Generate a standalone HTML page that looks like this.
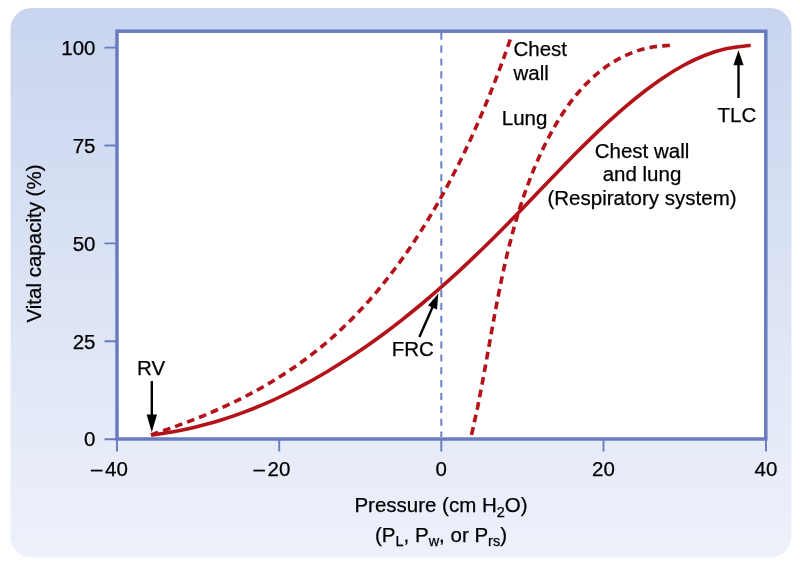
<!DOCTYPE html>
<html lang="en">
<head>
<meta charset="utf-8">
<title>Pressure–volume curves of the lung, chest wall and respiratory system</title>
<style>
html,body{margin:0;padding:0;background:#fff;}
body{width:800px;height:564px;overflow:hidden;}
svg{display:block;}
text{font-family:"Liberation Sans",Arial,Helvetica,sans-serif;font-size:20.5px;fill:#000;stroke:#000;stroke-width:0.25px;}
.sub{font-size:14.5px;}
</style>
</head>
<body>
<svg width="800" height="564" viewBox="0 0 800 564">
<defs>
<linearGradient id="bg" x1="0" y1="0" x2="0" y2="1">
<stop offset="0" stop-color="#c9d5ef"/>
<stop offset="1" stop-color="#edf1fa"/>
</linearGradient>
</defs>
<rect x="0" y="0" width="800" height="564" fill="#ffffff"/>
<rect x="10.5" y="8" width="781" height="549.5" rx="21" ry="21" fill="url(#bg)"/>
<!-- plot area -->
<rect x="117" y="31.2" width="648.8" height="407.8" fill="#ffffff" stroke="#697cc0" stroke-width="3.5"/>
<!-- ticks -->
<g stroke="#697cc0" stroke-width="1.9" fill="none">
<path d="M104.5 47.6H116M104.5 145.5H116M104.5 243.4H116M104.5 341.3H116M104.5 439.2H116"/>
<path d="M117 440V451.6M279.2 440V451.6M441.3 440V451.6M603.5 440V451.6M766 440V451.6"/>
</g>
<!-- zero line -->
<path d="M441.3 32.7V437" stroke="#6c80c8" stroke-width="2" stroke-dasharray="7.1 5.767" fill="none"/>
<!-- curves -->
<g fill="none" stroke="#b41219" stroke-width="3.6">
<path d="M150.9 434.9C153.8 434.0 162.3 431.1 168.0 429.1C173.7 427.1 179.4 425.1 185.0 422.9C190.7 420.8 196.3 418.6 201.9 416.3C207.5 414.0 213.0 411.7 218.6 409.2C224.1 406.7 229.6 404.2 235.0 401.6C240.4 398.9 245.8 396.2 251.1 393.4C256.4 390.6 261.7 387.6 266.8 384.6C272.0 381.6 277.1 378.5 282.2 375.2C287.2 372.0 292.2 368.7 297.1 365.2C302.0 361.8 306.8 358.3 311.5 354.6C316.3 351.0 320.9 347.3 325.5 343.4C330.0 339.6 334.5 335.6 338.9 331.5C343.2 327.5 347.5 323.3 351.7 319.1C355.9 314.8 360.1 310.5 364.1 306.1C368.1 301.7 372.1 297.2 376.0 292.6C379.8 288.0 383.6 283.4 387.3 278.6C391.0 273.9 394.7 269.1 398.2 264.3C401.8 259.4 405.3 254.5 408.7 249.6C412.1 244.6 415.4 239.6 418.7 234.5C422.0 229.4 425.2 224.3 428.3 219.2C431.4 214.0 434.5 208.8 437.5 203.6C440.5 198.4 443.4 193.1 446.3 187.8C449.2 182.5 452.0 177.2 454.7 171.8C457.5 166.5 460.2 161.1 462.8 155.7C465.4 150.3 468.0 144.8 470.5 139.4C473.0 133.9 475.5 128.4 477.9 122.9C480.3 117.4 482.6 111.9 484.9 106.4C487.2 100.8 489.5 95.3 491.7 89.7C493.9 84.1 496.1 78.5 498.2 72.9C500.3 67.4 502.4 61.7 504.4 56.1C506.4 50.5 509.3 42.1 510.3 39.3" stroke-dasharray="7.7 5.1"/>
<path d="M669.9 45.3C667.2 45.6 659.0 46.0 653.8 46.8C648.6 47.7 643.6 48.9 638.7 50.4C633.8 51.9 629.1 53.8 624.6 55.9C620.1 58.0 615.8 60.5 611.6 63.1C607.4 65.7 603.4 68.6 599.5 71.7C595.7 74.8 592.0 78.1 588.5 81.6C584.9 85.0 581.5 88.7 578.3 92.5C575.0 96.3 571.9 100.3 568.9 104.4C566.0 108.4 563.1 112.7 560.4 117.0C557.7 121.3 555.1 125.7 552.6 130.2C550.1 134.6 547.7 139.2 545.4 143.8C543.1 148.4 541.0 153.0 538.9 157.6C536.8 162.3 534.8 167.0 532.9 171.6C531.0 176.3 529.2 181.1 527.4 185.8C525.7 190.5 524.0 195.3 522.4 200.1C520.8 204.9 519.3 209.7 517.8 214.5C516.4 219.3 515.0 224.2 513.6 229.0C512.3 233.9 511.0 238.8 509.8 243.6C508.5 248.5 507.4 253.4 506.2 258.3C505.1 263.3 504.0 268.2 502.9 273.1C501.9 278.1 500.8 283.0 499.8 287.9C498.8 292.9 497.9 297.9 496.9 302.8C496.0 307.8 495.0 312.8 494.1 317.7C493.2 322.7 492.3 327.7 491.4 332.7C490.5 337.7 489.6 342.6 488.7 347.6C487.8 352.6 486.9 357.6 486.0 362.6C485.1 367.6 484.2 372.5 483.3 377.5C482.4 382.5 481.5 387.5 480.5 392.4C479.5 397.4 478.6 402.3 477.6 407.3C476.5 412.2 475.5 417.2 474.4 422.1C473.4 427.0 471.6 434.4 471.1 436.9" stroke-dasharray="7.7 5.1"/>
<path d="M151.2 435.2C155.1 434.5 166.9 432.8 174.6 431.4C182.4 429.9 190.1 428.3 197.7 426.4C205.3 424.5 212.9 422.5 220.4 420.2C227.9 417.9 235.4 415.4 242.7 412.6C250.1 409.9 257.4 407.0 264.6 403.9C271.8 400.8 278.9 397.5 286.0 394.0C293.0 390.6 300.0 387.0 306.9 383.2C313.8 379.5 320.6 375.5 327.4 371.5C334.1 367.5 340.7 363.3 347.3 359.1C353.9 354.8 360.4 350.4 366.8 346.0C373.2 341.5 379.6 336.9 385.9 332.2C392.1 327.5 398.4 322.7 404.5 317.8C410.7 313.0 416.7 308.0 422.8 303.0C428.8 297.9 434.7 292.8 440.6 287.6C446.5 282.4 452.4 277.1 458.2 271.8C464.0 266.5 469.7 261.1 475.4 255.6C481.1 250.2 486.7 244.7 492.3 239.2C497.9 233.6 503.5 228.0 509.0 222.4C514.5 216.8 520.0 211.1 525.4 205.5C530.9 199.8 536.3 194.1 541.7 188.4C547.2 182.8 552.6 177.1 558.1 171.4C563.5 165.8 569.0 160.2 574.5 154.6C580.0 149.0 585.6 143.5 591.2 138.1C596.8 132.6 602.5 127.2 608.3 121.9C614.1 116.7 619.9 111.5 625.9 106.4C631.9 101.3 638.0 96.3 644.2 91.5C650.4 86.8 656.8 82.0 663.3 77.7C669.8 73.3 676.5 69.1 683.3 65.5C690.2 61.8 697.2 58.3 704.5 55.5C711.7 52.7 719.2 50.3 726.9 48.6C734.6 46.9 746.7 45.8 750.7 45.3"/>
</g>
<!-- arrows -->
<g stroke="#000" stroke-width="2.4" fill="none">
<path d="M151.8 381V416"/>
<path d="M738.5 98V64"/>
<path d="M419.4 336.9L433 306"/>
</g>
<g fill="#000" stroke="none">
<path d="M146.6 414.4H157L151.8 432.3Z"/>
<path d="M733.4 65.3H743.6L738.5 50.2Z"/>
<path d="M438.3 293.6L437 309.4L428.1 305.4Z"/>
</g>
<!-- y tick labels -->
<g text-anchor="end">
<text x="95.5" y="54.8">100</text>
<text x="95.5" y="152.7">75</text>
<text x="95.5" y="250.6">50</text>
<text x="95.5" y="348.5">25</text>
<text x="95.5" y="446.4">0</text>
</g>
<!-- x tick labels -->
<g text-anchor="middle">
<text x="116.5" y="475.6">40</text><text x="102.4" y="475.6" text-anchor="end">–</text>
<text x="279" y="475.6">20</text><text x="264.9" y="475.6" text-anchor="end">–</text>
<text x="441.3" y="475.6">0</text>
<text x="603.5" y="475.6">20</text>
<text x="766" y="475.6">40</text>
</g>
<!-- axis titles -->
<text transform="translate(41 243.5) rotate(-90)" text-anchor="middle">Vital capacity (%)</text>
<text x="441" y="512" text-anchor="middle">Pressure (cm H<tspan class="sub" dy="5">2</tspan><tspan dy="-5">O)</tspan></text>
<text x="441" y="541.8" text-anchor="middle">(P<tspan class="sub" dy="4.5">L</tspan><tspan dy="-4.5">, P</tspan><tspan class="sub" dy="4.5">w</tspan><tspan dy="-4.5">, or P</tspan><tspan class="sub" dy="4.5">rs</tspan><tspan dy="-4.5">)</tspan></text>
<!-- annotations -->
<text x="137" y="375">RV</text>
<text x="391.8" y="355.5">FRC</text>
<text x="717.6" y="122.1">TLC</text>
<text x="513.5" y="56.2">Chest</text>
<text x="513.5" y="79.7">wall</text>
<text x="501.8" y="125.4">Lung</text>
<text x="642" y="157.5" text-anchor="middle">Chest wall</text>
<text x="642" y="181" text-anchor="middle">and lung</text>
<text x="642" y="204.5" text-anchor="middle">(Respiratory system)</text>
</svg>
</body>
</html>
